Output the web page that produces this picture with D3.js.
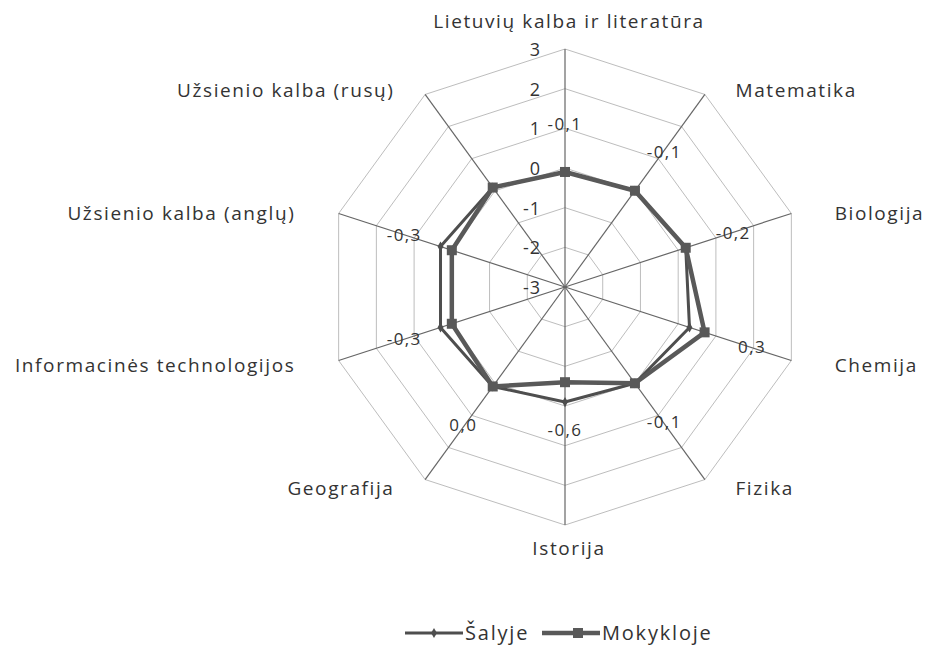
<!DOCTYPE html>
<html>
<head>
<meta charset="utf-8">
<script src="https://cdn.jsdelivr.net/npm/d3@7"></script>
<style>
  body { margin: 0; background: #fff; }
  text { font-family: "Open Sans", sans-serif; fill: #333; }
</style>
</head>
<body>
<svg id="radar"></svg>
<script>
// subjects, clockwise from the top
const categories = [
    "Lietuvių kalba ir literatūra",
    "Matematika",
    "Biologija",
    "Chemija",
    "Fizika",
    "Istorija",
    "Geografija",
    "Informacinės technologijos",
    "Užsienio kalba (anglų)",
    "Užsienio kalba (rusų)"
];
const seriesNames = ["Šalyje", "Mokykloje"];
const salyje = [-0.1, 0.0, 0.2, 0.3, 0.0, -0.1, 0.1, 0.3, 0.3, 0.1];
const mokykloje = [-0.1, 0.0, 0.2, 0.7, 0.0, -0.6, 0.1, 0.0, 0.0, 0.1];
const dataLabels = ["-0,1", "-0,1", "-0,2", "0,3", "-0,1", "-0,6", "0,0", "-0,3", "-0,3", ""];
const ticks = [-3, -2, -1, 0, 1, 2, 3];

var width = 926, height = 657;
var cx = 565, cy = 287, radius = 238;

var svg = d3.select("#radar")
    .attr("width", width)
    .attr("height", height);

var r = d3.scaleLinear()
    .domain([d3.min(ticks), d3.max(ticks)])
    .range([0, radius]);

var n = categories.length;
var angle = d3.scaleLinear().domain([0, n]).range([0, 2 * Math.PI]);

function pt(i, v) {
    let a = angle(i);
    return [cx + r(v) * Math.sin(a), cy - r(v) * Math.cos(a)];
}

let g = svg.append("g").attr("class", "radar-group");

// grid rings
let ringLine = d3.line().curve(d3.curveLinearClosed);
g.append("g").attr("class", "rings")
    .selectAll("path")
    .data(ticks.slice(1))
    .enter().append("path")
    .attr("d", v => ringLine(d3.range(n).map(i => pt(i, v))))
    .style("fill", "none")
    .style("stroke", "#bdbdbd")
    .style("stroke-width", 1);

// spokes
g.append("g").attr("class", "spokes")
    .selectAll("line")
    .data(d3.range(n))
    .enter().append("line")
    .attr("x1", cx).attr("y1", cy)
    .attr("x2", i => pt(i, d3.max(ticks))[0])
    .attr("y2", i => pt(i, d3.max(ticks))[1])
    .style("stroke", "#666")
    .style("stroke-width", 1.2);

// value axis labels
g.append("g").attr("class", "ticks")
    .selectAll("text")
    .data(ticks)
    .enter().append("text")
    .attr("x", cx - 24)
    .attr("y", v => cy - r(v))
    .attr("dy", "0.38em")
    .attr("text-anchor", "end")
    .style("font-size", "18px")
    .style("letter-spacing", "1px")
    .text(v => v);

// category labels
g.append("g").attr("class", "cats")
    .selectAll("text")
    .data(categories)
    .enter().append("text")
    .each(function(d, i) {
        let a = angle(i), s = Math.sin(a), c = Math.cos(a);
        let p = pt(i, d3.max(ticks));
        let t = d3.select(this);
        if (Math.abs(s) < 0.01) {
            t.attr("x", p[0] + 4).attr("y", p[1] - c * (c > 0 ? 28 : 23)).attr("text-anchor", "middle");
        } else {
            t.attr("x", p[0] + Math.sign(s) * (10 + 35 * Math.abs(s)))
             .attr("y", p[1] - c * 8 + 2)
             .attr("text-anchor", s > 0 ? "start" : "end");
        }
        t.attr("dy", "0.35em");
    })
    .style("font-size", "19px")
    .style("letter-spacing", "1.6px")
    .text(d => d);

// series lines
let lineFn = d3.line().curve(d3.curveLinearClosed);
let series = [
    { name: seriesNames[0], values: salyje, color: "#4e4e4e", width: 3 },
    { name: seriesNames[1], values: mokykloje, color: "#595959", width: 4.5 }
];

g.append("g").attr("class", "series")
    .selectAll("path")
    .data(series)
    .enter().append("path")
    .attr("d", s => lineFn(s.values.map((v, i) => pt(i, v))))
    .style("fill", "none")
    .style("stroke", s => s.color)
    .style("stroke-width", s => s.width)
    .style("stroke-linejoin", "round");

// markers
g.append("g").selectAll("path")
    .data(salyje.map((v, i) => pt(i, v)))
    .enter().append("path")
    .attr("transform", d => "translate(" + d[0] + "," + d[1] + ")")
    .attr("d", d3.symbol(d3.symbolDiamond, 30))
    .style("fill", "#4e4e4e");

g.append("g").selectAll("rect")
    .data(mokykloje.map((v, i) => pt(i, v)))
    .enter().append("rect")
    .attr("x", d => d[0] - 5).attr("y", d => d[1] - 5)
    .attr("width", 10).attr("height", 10)
    .style("fill", "#595959");

// data labels
g.append("g").attr("class", "data-labels")
    .selectAll("text")
    .data(dataLabels)
    .enter().append("text")
    .attr("x", (d, i) => { let a = angle(i); return cx + (r(mokykloje[i]) + 50) * Math.sin(a); })
    .attr("y", (d, i) => { let a = angle(i); return cy - (r(mokykloje[i]) + 48) * Math.cos(a); })
    .attr("dy", "0.35em")
    .attr("text-anchor", "middle")
    .style("font-size", "17px")
    .style("letter-spacing", "1.4px")
    .text(d => d);

// legend
let legend = svg.append("g").attr("class", "legend-group")
    .attr("transform", "translate(0,633)");
let lx = [405, 542];
series.forEach((s, i) => {
    let item = legend.append("g").attr("transform", "translate(" + lx[i] + ",0)");
    item.append("line")
        .attr("x1", 0).attr("x2", 58).attr("y1", 0).attr("y2", 0)
        .style("stroke", s.color).style("stroke-width", s.width);
    if (i == 0) {
        item.append("path").attr("transform", "translate(29,0)")
            .attr("d", d3.symbol(d3.symbolDiamond, 30)).style("fill", s.color);
    } else {
        item.append("rect").attr("x", 31).attr("y", -5).attr("width", 10).attr("height", 10)
            .style("fill", s.color);
    }
    item.append("text")
        .attr("x", 60).attr("y", 0).attr("dy", "0.35em")
        .style("font-size", "20px")
        .style("letter-spacing", "1.8px")
        .text(s.name);
});
</script>
</body>
</html>
